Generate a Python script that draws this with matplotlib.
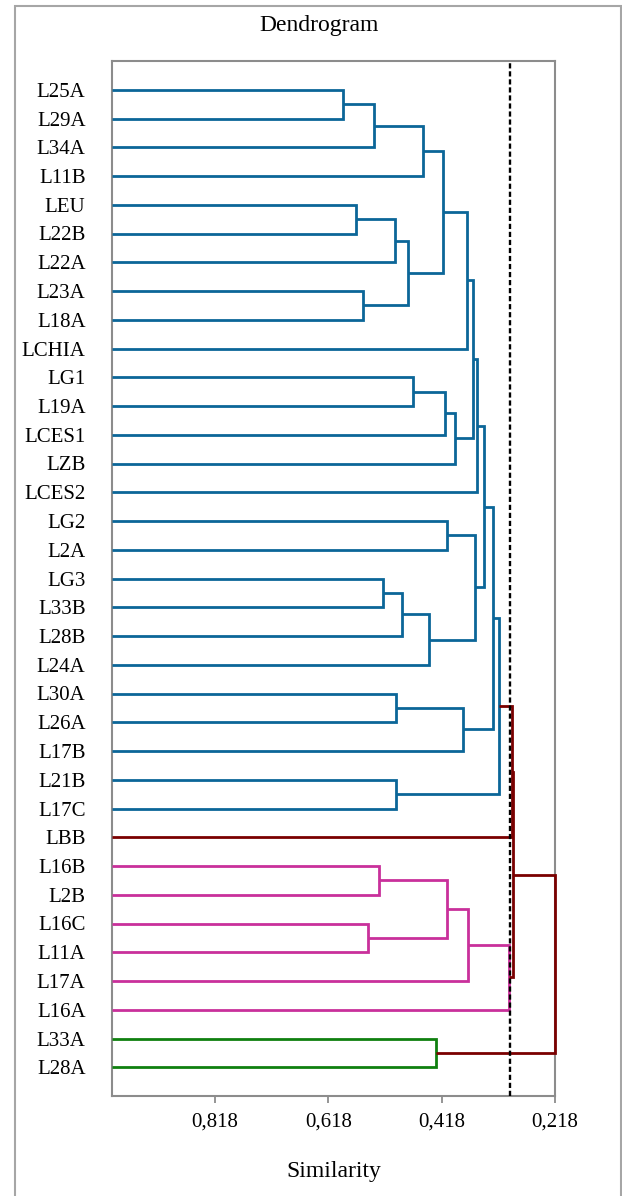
import matplotlib
matplotlib.use("Agg")
import matplotlib.pyplot as plt
from matplotlib.patches import Rectangle

# Leaves, top to bottom
LEAVES = ["L25A", "L29A", "L34A", "L11B", "LEU", "L22B", "L22A", "L23A", "L18A",
          "LCHIA", "LG1", "L19A", "LCES1", "LZB", "LCES2", "LG2", "L2A", "LG3",
          "L33B", "L28B", "L24A", "L30A", "L26A", "L17B", "L21B", "L17C", "LBB",
          "L16B", "L2B", "L16C", "L11A", "L17A", "L16A", "L33A", "L28A"]

# Merges (child a, child b, similarity); ids >= len(LEAVES) refer to earlier merges
MERGE_A = [0, 35, 36, 4, 38, 7, 39, 37, 42, 10, 44, 45, 43, 47, 15, 17, 50, 51, 49,
           48, 21, 55, 54, 24, 57, 59, 27, 29, 61, 63, 64, 60, 33, 66]
MERGE_B = [1, 2, 3, 5, 6, 8, 40, 41, 9, 11, 12, 13, 46, 14, 16, 18, 19, 20, 52,
           53, 22, 23, 56, 25, 58, 26, 28, 30, 62, 31, 32, 65, 34, 67]
MERGE_SIM = [0.592, 0.538, 0.451, 0.570, 0.500, 0.557, 0.478, 0.415, 0.374, 0.468,
             0.412, 0.395, 0.362, 0.355, 0.409, 0.521, 0.488, 0.441, 0.359, 0.344,
             0.499, 0.380, 0.327, 0.499, 0.317, 0.294, 0.528, 0.548, 0.408, 0.372,
             0.299, 0.293, 0.428, 0.218]
MERGE_GROUP = ["b"] * 25 + ["r"] + ["p"] * 5 + ["r", "g", "r"]

CUT_SIM = 0.297
XTICKS = [0.818, 0.618, 0.418, 0.218]
XTICK_LABELS = ["0,818", "0,618", "0,418", "0,218"]

COLORS = {"b": "#0b6698", "r": "#7a0000", "p": "#c9309b", "g": "#0f800f"}
FRAME = "#8c8c8c"

plt.rcParams["font.family"] = ["Liberation Serif", "DejaVu Serif"]

fig = plt.figure(figsize=(6.22, 11.96), dpi=100)
ax = fig.add_axes([112 / 622, 1 - 1096 / 1196, (555 - 112) / 622, (1096 - 61) / 1196])

n = len(LEAVES)
pos_y = {i: float(i) for i in range(n)}
pos_x = {i: 1.0 for i in range(n)}
for k, (a, b, s, g) in enumerate(zip(MERGE_A, MERGE_B, MERGE_SIM, MERGE_GROUP)):
    node = n + k
    ax.plot([pos_x[a], s, s, pos_x[b]], [pos_y[a], pos_y[a], pos_y[b], pos_y[b]],
            color=COLORS[g], lw=2.0, solid_joinstyle="miter", solid_capstyle="butt",
            clip_on=False, zorder=3)
    pos_x[node] = s
    pos_y[node] = (pos_y[a] + pos_y[b]) / 2

ax.axvline(CUT_SIM, color="black", lw=1.7, ls=(0, (2.2, 1.2)), zorder=4)

ax.set_xlim(1.0, 0.218)
ax.set_ylim(n, -1)
ax.set_yticks(range(n))
ax.set_yticklabels(LEAVES, fontsize=15)
ax.tick_params(axis="y", length=0, pad=19)
ax.set_xticks(XTICKS)
ax.set_xticklabels(XTICK_LABELS, fontsize=15)
ax.tick_params(axis="x", length=5, width=1.3, color=FRAME, pad=7)
for sp in ax.spines.values():
    sp.set_color(FRAME)
    sp.set_linewidth(1.5)

ax.set_xlabel("Similarity", fontsize=17)
ax.xaxis.set_label_coords(0.5, -(1172 - 1096) / 1035)
ax.xaxis.label.set_va("center")

fig.text(319 / 622, 1 - 25 / 1196, "Dendrogram", fontsize=17, ha="center", va="center")
fig.patches.append(Rectangle((15 / 622, -0.01), (621 - 15) / 622, 1.01 - 6 / 1196,
                             transform=fig.transFigure, fill=False,
                             edgecolor="#a6a6a6", lw=1.5))

fig.savefig("out.png", dpi=100)
